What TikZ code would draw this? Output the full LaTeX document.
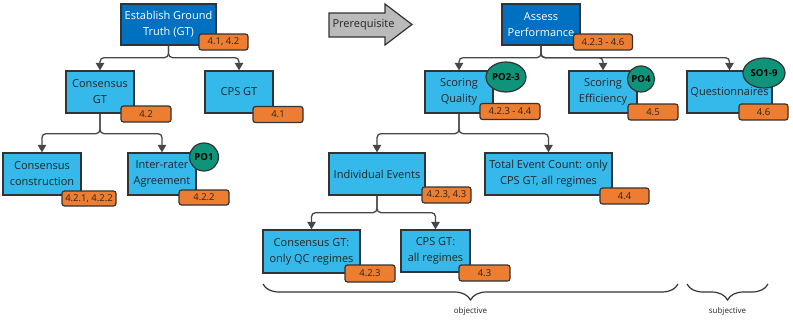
\documentclass[tikz,border=0pt]{standalone}
\usepackage{fontspec}
\setmainfont{Open Sans}
\usetikzlibrary{arrows.meta,decorations.pathreplacing,shapes.geometric}
\definecolor{dkblue}{HTML}{0070C0}
\definecolor{ltblue}{HTML}{35B9EB}
\definecolor{tagor}{HTML}{ED7D31}
\definecolor{poteal}{HTML}{0F9479}
\definecolor{edge}{HTML}{333333}
\definecolor{txt}{HTML}{262626}
\tikzset{
  basebox/.style={draw=edge, line width=1.3pt, align=center, inner sep=0pt,
    font=\fontsize{11}{16}\selectfont},
  darkbox/.style={basebox, fill=dkblue, text=white},
  litebox/.style={basebox, fill=ltblue, text=txt},
  tagbox/.style={draw=edge, line width=1.2pt, fill=tagor, rounded corners=2.5pt,
    text=txt, font=\fontsize{9.5}{10}\selectfont, inner sep=0pt, minimum height=16pt},
  pobadge/.style={draw=edge, line width=1.2pt, fill=poteal, ellipse, inner sep=0pt,
    text=black, font=\bfseries\fontsize{9.6}{10}\selectfont},
  conn/.style={draw=edge!90!white, line width=1.3pt, rounded corners=4pt,
    -{Triangle[width=8.5pt,length=7.5pt]}},
  bracestyle/.style={draw=edge, line width=1.2pt, decorate,
    decoration={brace, mirror, amplitude=16pt}},
  bracelbl/.style={text=txt, font=\fontsize{8}{9}\selectfont}
}
\begin{document}
\begin{tikzpicture}[x=1pt,y=-1pt]
\useasboundingbox (0,0) rectangle (793,324);

% left tree
\node[darkbox, minimum width=95pt, minimum height=41pt] (est) at (168.5,24.5) {Establish Ground\\Truth (GT)};
\node[litebox, minimum width=68pt, minimum height=42pt] (cgt) at (100,92) {Consensus\\GT};
\node[litebox, minimum width=68pt, minimum height=42pt] (cps) at (239,92) {CPS GT};
\node[litebox, minimum width=78pt, minimum height=42pt] (ccon) at (42,174) {Consensus\\construction};
\node[litebox, minimum width=68pt, minimum height=42pt] (ira) at (162,174) {Inter-rater\\Agreement};

\draw[conn] (est.south) -- ++(0,12) -| (cgt.north);
\draw[conn] (est.south) -- ++(0,12) -| (cps.north);
\draw[conn] (cgt.south) -- ++(0,20) -| (ccon.north);
\draw[conn] (cgt.south) -- ++(0,20) -| (ira.north);

\node[tagbox, minimum width=49pt] (t1) at (223.5,42) {4.1, 4.2};
\node[tagbox, minimum width=50pt] (t2) at (146,114) {4.2};
\node[tagbox, minimum width=50pt] (t3) at (278,114.5) {4.1};
\node[tagbox, minimum width=54pt, minimum height=15pt] (t4) at (89,198.5) {4.2.1, 4.2.2};
\node[tagbox, minimum width=50pt, minimum height=15pt] (t5) at (204,197.5) {4.2.2};
\node[pobadge, minimum width=29pt, minimum height=28pt] (po1) at (204,157) {PO1};

% prerequisite arrow
\draw[draw=edge, line width=1.2pt, fill=black!27] (329,13) -- (385,13) -- (385,4) -- (412,24.5) -- (385,45) -- (385,37) -- (329,37) -- cycle;
\node[text=txt, font=\fontsize{11}{13}\selectfont] (prereq) at (363.5,25) {Prerequisite};

% right tree
\node[darkbox, minimum width=78pt, minimum height=41pt] (ap) at (541,24.5) {Assess\\Performance};
\node[litebox, minimum width=68pt, minimum height=42pt] (sq) at (459,92) {Scoring\\Quality};
\node[litebox, minimum width=68pt, minimum height=42pt] (se) at (603,92) {Scoring\\Efficiency};
\node[litebox, minimum width=85pt, minimum height=42pt] (qn) at (729.5,92) {Questionnaires};
\node[litebox, minimum width=96pt, minimum height=42pt] (ie) at (377,174) {Individual Events};
\node[litebox, minimum width=127pt, minimum height=42pt] (tec) at (548.5,174) {Total Event Count: only\\CPS GT, all regimes};
\node[litebox, minimum width=97pt, minimum height=43pt] (cgq) at (311.5,251.5) {Consensus GT:\\only QC regimes};
\node[litebox, minimum width=69pt, minimum height=42pt] (cpsa) at (435.5,251) {CPS GT:\\all regimes};

\draw[conn] (ap.south) -- ++(0,12) -| (sq.north);
\draw[conn] (ap.south) -- ++(0,12) -| (se.north);
\draw[conn] (ap.south) -- ++(0,12) -| (qn.north);
\draw[conn] (sq.south) -- ++(0,20) -| (ie.north);
\draw[conn] (sq.south) -- ++(0,20) -| (tec.north);
\draw[conn] (ie.south) -- ++(0,17) -| (cgq.north);
\draw[conn] (ie.south) -- ++(0,17) -| (cpsa.north);

\node[tagbox, minimum width=59pt] (t6) at (603,42) {4.2.3 - 4.6};
\node[tagbox, minimum width=60pt] (t7) at (510,111.5) {4.2.3 - 4.4};
\node[tagbox, minimum width=50pt] (t8) at (653,112) {4.5};
\node[tagbox, minimum width=49pt] (t9) at (763.5,112) {4.6};
\node[tagbox, minimum width=49pt] (t10) at (446.5,195) {4.2.3, 4.3};
\node[tagbox, minimum width=49pt] (t11) at (624.5,196) {4.4};
\node[tagbox, minimum width=50pt, minimum height=17pt] (t12) at (370,273.5) {4.2.3};
\node[tagbox, minimum width=51pt] (t13) at (484.5,273) {4.3};

\node[pobadge, minimum width=40pt, minimum height=30pt] (po23) at (506,77) {PO2-3};
\node[pobadge, minimum width=26pt, minimum height=26pt] (po4) at (641,79) {PO4};
\node[pobadge, minimum width=42pt, minimum height=30pt] (so19) at (764,73) {SO1-9};

% braces
\coordinate (ob1) at (263,284);
\coordinate (ob2) at (678,284);
\coordinate (sb1) at (687,284);
\coordinate (sb2) at (768,284);
\draw[bracestyle] (ob1) -- (ob2);
\draw[bracestyle] (sb1) -- (sb2);
\node[bracelbl] (objl) at (470.5,311) {objective};
\node[bracelbl] (subl) at (727.5,311) {subjective};
\end{tikzpicture}
\end{document}
